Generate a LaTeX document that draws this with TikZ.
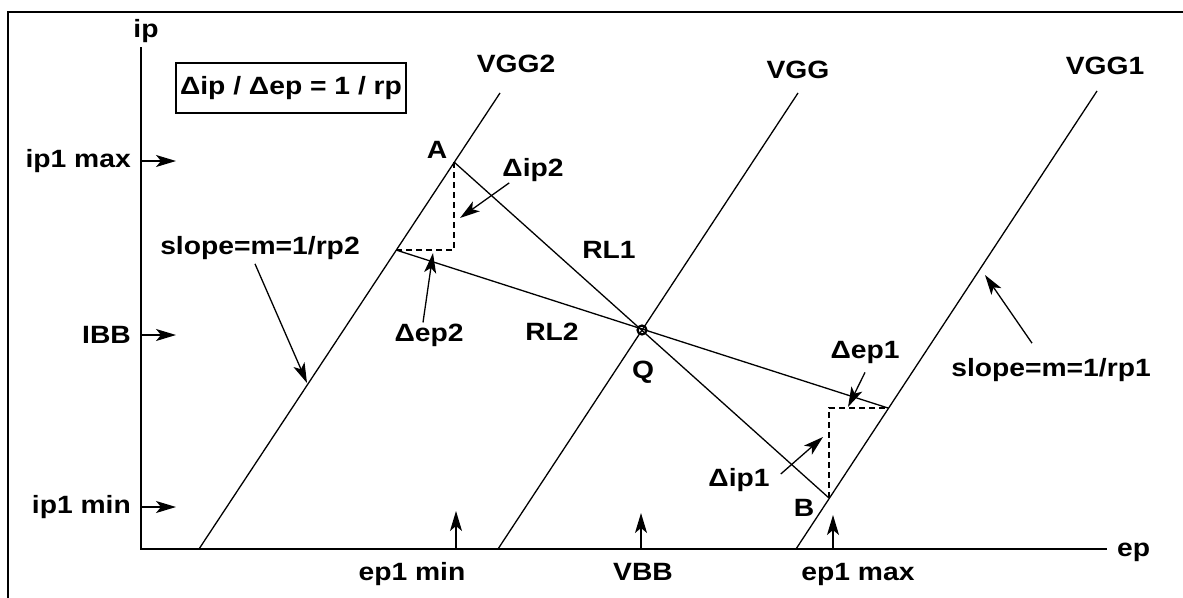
\documentclass[tikz,border=0pt]{standalone}
\usepackage{fontspec}
\setmainfont{Liberation Sans}[FakeStretch=1.13]
\usetikzlibrary{arrows.meta}

\begin{document}
\begin{tikzpicture}[
    x=1pt, y=-1pt,
    font=\fontsize{25}{30}\selectfont\bfseries,
    axis/.style={line width=1.8pt},
    curve/.style={line width=1.3pt},
    loadline/.style={line width=1.3pt},
    guide/.style={line width=1.3pt, dash pattern=on 6pt off 4pt},
    pointer/.style={line width=1.3pt, -{Stealth[length=20pt,width=12pt,inset=5pt]}},
    tag/.style={inner sep=1pt}
]
    \useasboundingbox (0,0) rectangle (1183,597);

    % --- Frame ---
    \draw[line width=2.4pt] (8,620) -- (8,12) -- (1200,12);

    % --- Axes ---
    \coordinate (O) at (141,549);
    \coordinate (ytop) at (141,47);
    \coordinate (xend) at (1107,549);
    \draw[axis] (ytop) -- (O) -- (xend);
    \node[tag] (ip) at (146,31) {ip};
    \node[tag, anchor=base west] (ep) at (1116,556) {ep};

    % --- Grid voltage lines ---
    \coordinate (g2b) at (199,549);
    \coordinate (g2t) at (500,93);
    \coordinate (gb) at (498,549);
    \coordinate (gt) at (798,93);
    \coordinate (g1b) at (796,549);
    \coordinate (g1t) at (1097,91);
    \draw[curve] (g2b) -- (g2t);
    \draw[curve] (gb) -- (gt);
    \draw[curve] (g1b) -- (g1t);
    \node[tag] (vgg2) at (516,64) {VGG2};
    \node[tag] (vgg) at (798,70) {VGG};
    \node[tag] (vgg1) at (1105,66) {VGG1};

    % --- Load lines ---
    \coordinate (A) at (454,162);
    \coordinate (Q) at (642,330);
    \coordinate (B) at (829,498);
    \coordinate (L) at (396,250);
    \coordinate (R) at (888,408);
    \draw[loadline] (A) -- (B);
    \draw[loadline] (L) -- (R);
    \draw[line width=2.2pt] (Q) circle (4.5pt);
    \node[tag] (rl1) at (609,250) {RL1};
    \node[tag] (rl2) at (552,332) {RL2};

    % Slope triangles
    \draw[guide] (A) -- (A |- L) -- (L);
    \draw[guide] (B) -- (B |- R) -- (R);

    % --- Point labels ---
    \node[tag] (lA) at (437,150) {A};
    \node[tag] (lQ) at (643,372) {Q};
    \node[tag] (lB) at (804,508) {B};

    % --- Equation box ---
    \node[draw, line width=1.2pt, inner sep=4pt, minimum height=50pt] (eq) at (291,88) {Δip / Δep = 1 / rp};

    % --- Current levels ---
    \node[tag, anchor=east] (ip1max) at (132,161) {ip1 max};
    \node[tag, anchor=east] (ibb) at (132,335) {IBB};
    \node[tag, anchor=east] (ip1min) at (132,507) {ip1 min};
    \coordinate (tmax) at (176,161);
    \coordinate (tbb) at (176,335);
    \coordinate (tmin) at (176,507);
    \draw[pointer] (ip1max -| O) -- (tmax);
    \draw[pointer] (ibb -| O) -- (tbb);
    \draw[pointer] (ip1min -| O) -- (tmin);

    % --- Voltage levels ---
    \node[tag, anchor=base] (ep1min) at (412,580) {ep1 min};
    \node[tag, anchor=base] (vbb) at (643,580) {VBB};
    \node[tag, anchor=base] (ep1max) at (858,580) {ep1 max};
    \coordinate (tepmin) at (456,511);
    \coordinate (tvbb) at (641,513);
    \coordinate (tepmax) at (833,515);
    \draw[pointer] (tepmin |- O) -- (tepmin);
    \draw[pointer] (tvbb |- O) -- (tvbb);
    \draw[pointer] (tepmax |- O) -- (tepmax);

    % --- Increments and slopes ---
    \node[tag] (dip2) at (533,170) {Δip2};
    \node[tag] (dep2) at (429,335) {Δep2};
    \node[tag] (dep1) at (865,352) {Δep1};
    \node[tag] (dip1) at (739,480) {Δip1};
    \node[tag] (slope2) at (260,248) {slope=m=1/rp2};
    \node[tag] (slope1) at (1051,370) {slope=m=1/rp1};
    \coordinate (tdip2) at (460,218);
    \coordinate (tdep2) at (433,253);
    \coordinate (tdep1) at (848,407);
    \coordinate (tdip1) at (823,437);
    \coordinate (tslope2) at (307,383);
    \coordinate (tslope1) at (985,275);
    \draw[pointer] ([xshift=8pt]dip2.south west) -- (tdip2);
    \draw[pointer] ([xshift=-6pt]dep2.north) -- (tdep2);
    \draw[pointer] ([yshift=-8pt]dep1.south) -- (tdep1);
    \draw[pointer] ([shift={(10pt,6pt)}]dip1.east) -- (tdip1);
    \draw[pointer] ([xshift=-5pt,yshift=-3pt]slope2.south) -- (tslope2);
    \draw[pointer] ([xshift=-19pt,yshift=14pt]slope1.north) -- (tslope1);

\end{tikzpicture}
\end{document}
